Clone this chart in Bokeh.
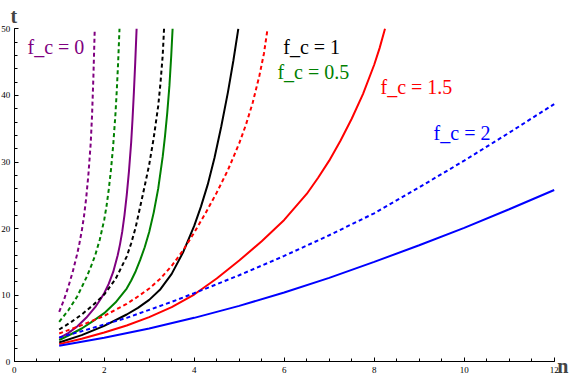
from bokeh.plotting import figure
from bokeh.models import Range1d, SingleIntervalTicker, Label
from bokeh.embed import file_html
from bokeh.resources import INLINE

# ---- data ----
# f_c = 0 (purple)
fc0_dash_n = [1.0, 1.1, 1.2, 1.3, 1.4, 1.45, 1.5, 1.55, 1.6, 1.65, 1.7, 1.73, 1.76, 1.79]
fc0_dash_t = [7.5, 9.2, 11.2, 13.5, 16.2, 17.8, 19.6, 21.8, 24.6, 28.2, 32.8, 37.0, 42.8, 50.0]
fc0_solid_n = [1.0, 1.2, 1.4, 1.6, 1.8, 1.9, 2.0, 2.1, 2.2, 2.3, 2.35, 2.4, 2.45, 2.5, 2.55, 2.6, 2.63, 2.66, 2.69, 2.72]
fc0_solid_t = [3.55, 4.3, 5.3, 6.6, 8.2, 9.2, 10.3, 11.7, 13.5, 16.0, 17.6, 19.5, 22.0, 25.0, 28.6, 33.0, 36.5, 40.5, 45.0, 50.0]
# f_c = 0.5 (green)
fc05_dash_n = [1.0, 1.2, 1.4, 1.6, 1.7, 1.8, 1.9, 2.0, 2.05, 2.1, 2.15, 2.2, 2.25, 2.28, 2.31, 2.34]
fc05_dash_t = [6.0, 7.7, 9.8, 12.6, 14.2, 16.0, 18.3, 21.3, 23.3, 25.8, 28.8, 32.5, 37.2, 40.8, 45.0, 50.0]
fc05_solid_n = [1.0, 1.25, 1.5, 1.75, 2.0, 2.25, 2.5, 2.6, 2.7, 2.8, 2.9, 3.0, 3.1, 3.2, 3.3, 3.35, 3.4, 3.45, 3.49, 3.52]
fc05_solid_t = [3.25, 4.1, 5.0, 6.1, 7.3, 8.9, 11.0, 12.2, 13.6, 15.3, 17.2, 19.5, 22.4, 26.0, 30.8, 33.8, 37.3, 41.5, 46.0, 50.0]
# f_c = 1 (black)
fc1_dash_n = [1.0, 1.25, 1.5, 1.75, 2.0, 2.25, 2.5, 2.6, 2.7, 2.8, 2.9, 3.0, 3.1, 3.2, 3.25, 3.3, 3.33]
fc1_dash_t = [4.85, 5.9, 7.1, 8.5, 10.1, 12.4, 15.8, 17.8, 20.2, 23.3, 26.4, 29.6, 33.6, 38.4, 41.8, 46.0, 50.0]
fc1_solid_n = [1.0, 1.5, 2.0, 2.5, 2.75, 3.0, 3.25, 3.5, 3.75, 4.0, 4.15, 4.3, 4.45, 4.6, 4.75, 4.87, 4.98]
fc1_solid_t = [2.9, 4.0, 5.4, 7.1, 8.1, 9.3, 10.9, 13.2, 16.4, 20.4, 23.3, 26.6, 30.6, 35.3, 40.5, 45.2, 50.0]
# f_c = 1.5 (red)
fc15_dash_n = [1.0, 1.5, 2.0, 2.5, 2.75, 3.0, 3.25, 3.5, 3.75, 4.0, 4.25, 4.5, 4.75, 5.0, 5.15, 5.3, 5.45, 5.55, 5.63]
fc15_dash_t = [4.25, 5.5, 6.9, 8.7, 9.8, 11.0, 12.5, 14.4, 16.7, 19.4, 22.3, 25.4, 28.8, 32.8, 35.6, 38.9, 43.0, 46.3, 50.0]
fc15_solid_n = [1.0, 1.5, 2.0, 2.5, 3.0, 3.5, 4.0, 4.5, 5.0, 5.5, 6.0, 6.5, 6.75, 7.0, 7.25, 7.5, 7.75, 8.0, 8.12, 8.24]
fc15_solid_t = [2.65, 3.45, 4.4, 5.45, 6.7, 8.2, 10.1, 12.5, 15.2, 18.1, 21.3, 25.2, 27.6, 30.2, 33.2, 36.5, 40.2, 44.6, 47.1, 50.0]
# f_c = 2 (blue)
fc2_dash_n = [1, 1.5, 2, 2.5, 3, 3.5, 4, 5, 6, 7, 8, 9, 10, 11, 12]
fc2_dash_t = [3.65, 4.6, 5.6, 6.6, 7.8, 9.0, 10.3, 13.0, 15.9, 19.0, 22.3, 26.2, 30.2, 34.4, 38.7]
fc2_solid_n = [1, 2, 3, 4, 5, 6, 7, 8, 9, 10, 11, 12]
fc2_solid_t = [2.4, 3.6, 5.0, 6.6, 8.4, 10.4, 12.6, 15.0, 17.5, 20.1, 22.9, 25.8]

curve_labels = ["f_c = 0", "f_c = 1", "f_c = 0.5", "f_c = 1.5", "f_c = 2"]
label_x = [0.296, 5.98, 5.85, 8.14, 9.32]
label_y = [47.34, 47.24, 43.48, 41.19, 34.28]
label_colors = ["#800080", "#000000", "#008000", "#FF0000", "#0000FF"]

x_ticks_interval = 2
y_ticks_interval = 10

SERIF = "'Liberation Serif', 'Times New Roman', Times, 'DejaVu Serif', serif"

p = figure(width=570, height=377, output_backend="svg", toolbar_location=None,
           x_range=Range1d(-13.7 / 45.0, 556.3 / 45.0),
           y_range=Range1d(-(377 - 361.3) / 6.66, 361.3 / 6.66),
           min_border=0, min_border_left=0, min_border_bottom=0,
           min_border_top=0, min_border_right=0)
p.outline_line_color = None
p.grid.visible = False
p.background_fill_color = "white"

p.xaxis.ticker = SingleIntervalTicker(interval=x_ticks_interval, num_minor_ticks=4)
p.yaxis.ticker = SingleIntervalTicker(interval=y_ticks_interval, num_minor_ticks=5)
p.xaxis.bounds = (0, 12)
p.yaxis.bounds = (0, 50)
p.xaxis.fixed_location = 0
p.yaxis.fixed_location = 0
for ax in (p.xaxis, p.yaxis):
    ax.major_tick_out = 0
    ax.major_tick_in = 4
    ax.minor_tick_out = 0
    ax.minor_tick_in = 3
    ax.axis_line_color = "black"
    ax.major_tick_line_color = "black"
    ax.minor_tick_line_color = "black"
    ax.major_label_text_font = SERIF
    ax.major_label_text_font_size = "9px"
    ax.major_label_text_color = "black"
p.xaxis.major_label_standoff = 5
p.yaxis.major_label_standoff = 4

W = 2
DASH = "4 3"
series = [
    (fc0_dash_n, fc0_dash_t, "#800080", DASH),
    (fc0_solid_n, fc0_solid_t, "#800080", "solid"),
    (fc05_dash_n, fc05_dash_t, "#008000", DASH),
    (fc05_solid_n, fc05_solid_t, "#008000", "solid"),
    (fc1_dash_n, fc1_dash_t, "#000000", DASH),
    (fc1_solid_n, fc1_solid_t, "#000000", "solid"),
    (fc15_dash_n, fc15_dash_t, "#FF0000", DASH),
    (fc15_solid_n, fc15_solid_t, "#FF0000", "solid"),
    (fc2_dash_n, fc2_dash_t, "#0000FF", DASH),
    (fc2_solid_n, fc2_solid_t, "#0000FF", "solid"),
]
for xs, ys, c, d in series:
    p.line(xs, ys, line_color=c, line_width=W, line_dash=d)

for txt, x, y, c in zip(curve_labels, label_x, label_y, label_colors):
    p.add_layout(Label(x=x, y=y, text=txt, text_color=c, text_font=SERIF,
                       text_font_size="20px", text_baseline="alphabetic", text_align="left"))

p.add_layout(Label(x=-0.082, y=51.85, text="t", text_font=SERIF,
                   text_font_size="20px", text_font_style="bold", text_baseline="alphabetic"))
p.add_layout(Label(x=12.07, y=-0.56, text="n", text_font=SERIF,
                   text_font_size="20px", text_font_style="bold", text_baseline="alphabetic"))

open("out.html", "w").write(file_html(p, INLINE))
